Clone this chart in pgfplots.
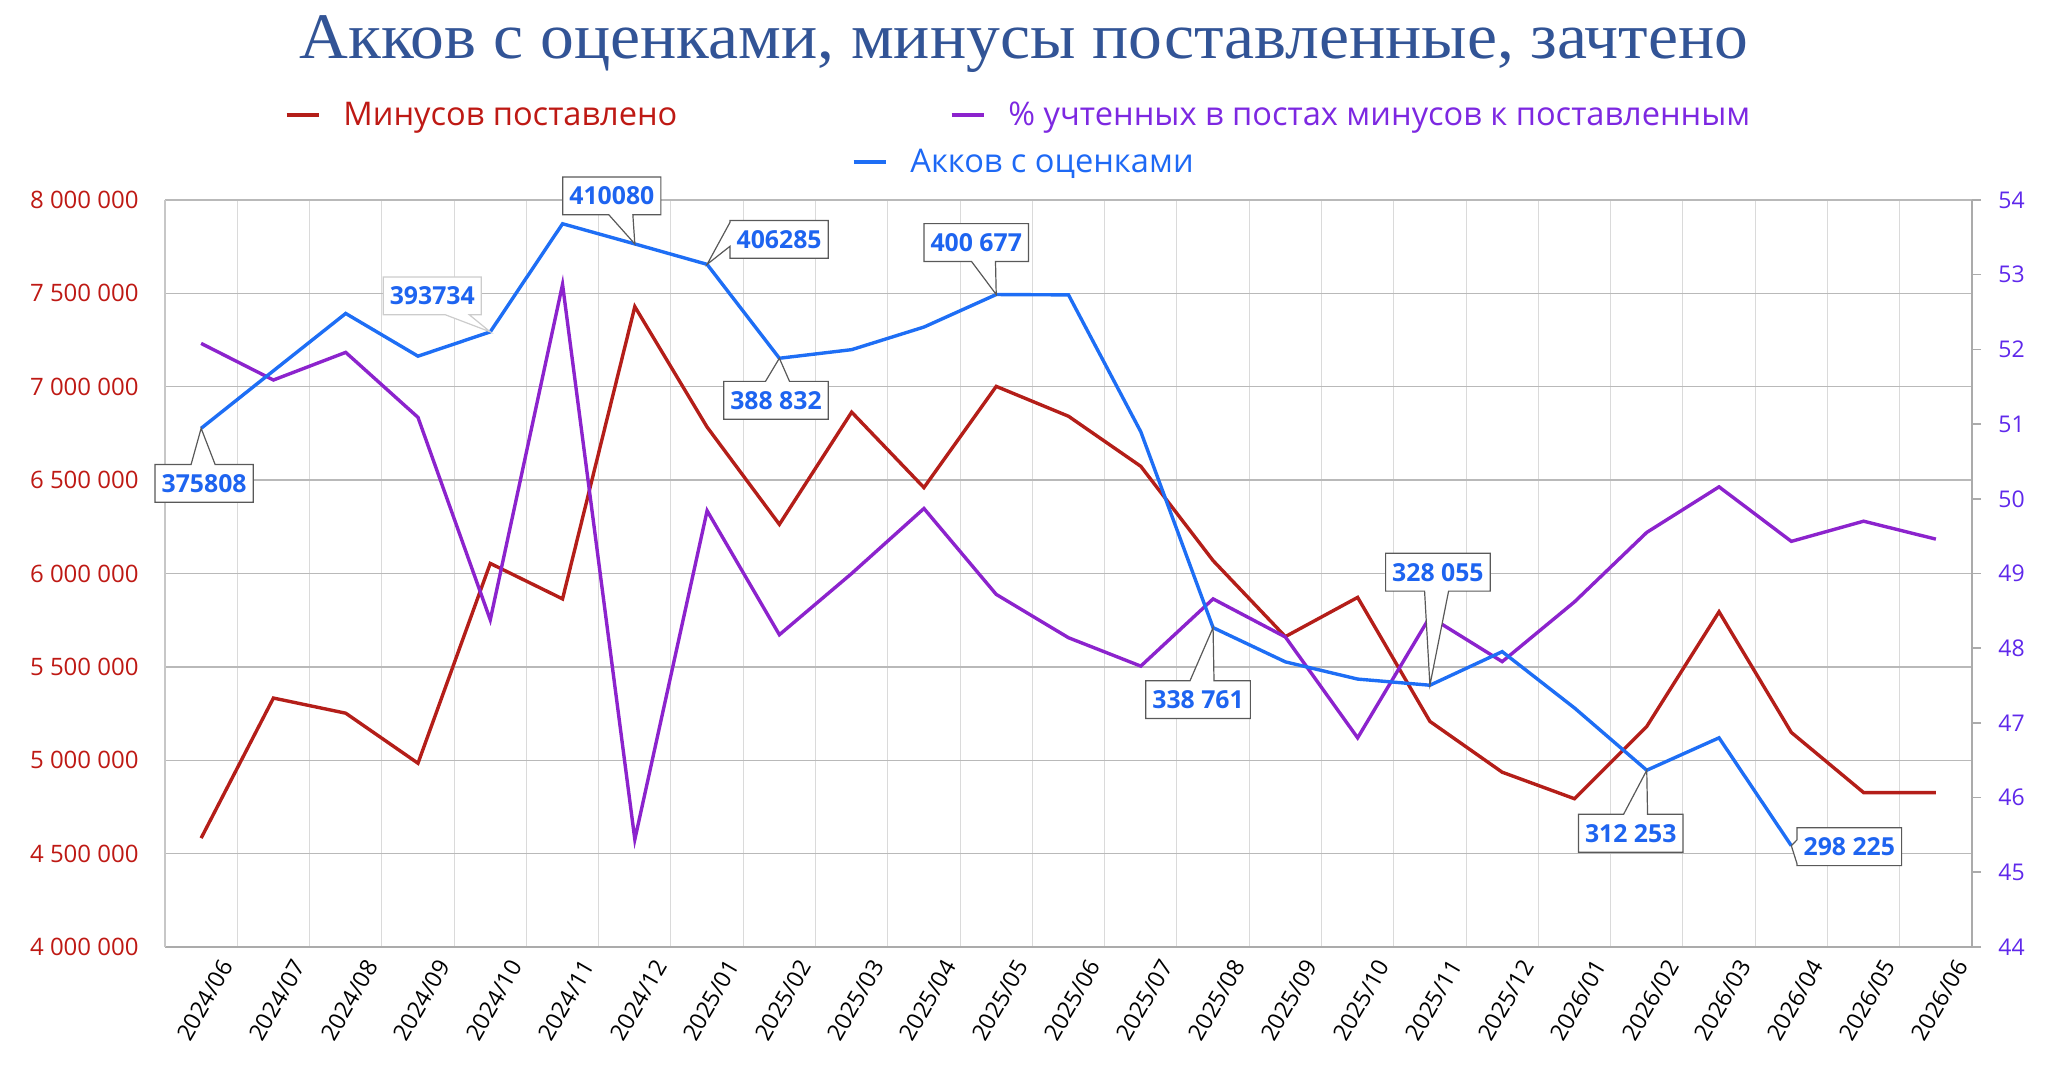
\documentclass[border=0pt]{standalone}
\usepackage{fontspec}
\setmainfont{Open Sans}
\newfontfamily\titlefont[FakeStretch=1.04]{Liberation Serif}
\usepackage{pgfplots}
\pgfplotsset{compat=1.18}
\usetikzlibrary{shapes.callouts}

\definecolor{redline}{RGB}{180,30,25}
\definecolor{redtext}{RGB}{190,25,20}
\definecolor{purpline}{RGB}{140,35,205}
\definecolor{purptext}{RGB}{125,40,225}
\definecolor{rtick}{RGB}{95,40,235}
\definecolor{blueline}{RGB}{30,110,245}
\definecolor{bluetext}{RGB}{30,105,245}
\definecolor{lblblue}{RGB}{30,100,240}
\definecolor{titleblue}{RGB}{50,84,150}
\definecolor{hgrid}{RGB}{185,185,185}
\definecolor{vgrid}{RGB}{218,218,218}

\pgfplotsset{
  base/.style={
    at={(82.5pt,67pt)}, anchor=south west,
    scale only axis, width=903.5pt, height=373.5pt,
    xmin=-0.5, xmax=24.5,
    clip=false, scaled y ticks=false,
    /pgf/number format/assume math mode=true,
    legend style={draw=none, fill=none, inner sep=0pt, outer sep=0pt,
      font=\fontsize{16.3}{19}\selectfont, anchor=west,
      nodes={inner sep=0pt}, column sep=0pt},
    legend image code/.code={\draw[line width=1.7pt,##1] (0pt,0pt) -- (16pt,0pt); \path (27.5pt,0pt);},
  },
}
\tikzset{lbl/.style={rectangle callout, draw=black!65, fill=white, line width=0.6pt,
  font=\bfseries\fontsize{12.4}{14}\selectfont, text=lblblue,
  inner xsep=3.3pt, inner ysep=5pt, text height=8.9pt, text depth=0pt,
  callout pointer width=12pt}}

\begin{document}
\begin{tikzpicture}
\path[use as bounding box] (0,0) rectangle (1024pt,540.5pt);

\begin{axis}[base,
  ymin=4000000, ymax=8000000,
  ytick={4000000,4500000,5000000,5500000,6000000,6500000,7000000,7500000,8000000},
  yticklabels={4 000 000,4 500 000,5 000 000,5 500 000,6 000 000,6 500 000,7 000 000,7 500 000,8 000 000},
  xtick={0,...,24},
  xticklabels={2024/06,2024/07,2024/08,2024/09,2024/10,2024/11,2024/12,2025/01,2025/02,2025/03,2025/04,2025/05,2025/06,2025/07,2025/08,2025/09,2025/10,2025/11,2025/12,2026/01,2026/02,2026/03,2026/04,2026/05,2026/06},
  minor xtick={-0.5,0.5,...,24.5},
  xminorgrids=true, xmajorgrids=false, ymajorgrids=true,
  minor x grid style={draw=vgrid, line width=0.5pt},
  major y grid style={draw=hgrid, line width=0.65pt},
  major tick length=0pt, minor tick length=0pt,
  axis x line*=bottom, axis y line*=left,
  x axis line style={draw=black!33, line width=1pt},
  y axis line style={draw=black!22, line width=0.6pt},
  xticklabel style={rotate=60, anchor=east, inner sep=0pt, font=\fontsize{11.6}{13}\selectfont, yshift=-15pt},
  yticklabel style={font=\fontsize{12}{14}\selectfont, text=redtext, inner sep=0pt, anchor=east, xshift=-13pt},
  legend style={at={(axis description cs:0.0664,1.1138)}},
]
\addplot[redline, line width=1.7pt] coordinates {
(0,4583000) (1,5333000) (2,5252000) (3,4984000) (4,6054000) (5,5864000)
(6,7429000) (7,6784000) (8,6263000) (9,6864000) (10,6460000) (11,7002000)
(12,6842000) (13,6574000) (14,6069000) (15,5662000) (16,5872000) (17,5208000)
(18,4936000) (19,4794000) (20,5181000) (21,5795000) (22,5149000) (23,4827000)
(24,4827000)};
\addlegendentry{\textcolor{redtext}{Минусов поставлено}}
\end{axis}

\begin{axis}[base,
  ymin=44, ymax=54, ytick={44,45,46,47,48,49,50,51,52,53,54},
  axis y line*=right, axis x line=none,
  y axis line style={draw=black!33, line width=1pt},
  ytick style={draw=black!33, line width=0.8pt},
  tick align=outside, major tick length=4.5pt,
  yticklabel style={font=\fontsize{11.5}{13}\selectfont, text=rtick, inner sep=0pt, anchor=west, xshift=8.5pt},
  legend style={at={(axis description cs:0.4344,1.1138)}},
]
\addplot[purpline, line width=1.7pt] coordinates {
(0,52.08) (1,51.59) (2,51.96) (3,51.09) (4,48.38) (5,52.87) (6,45.44)
(7,49.84) (8,48.18) (9,49.00) (10,49.87) (11,48.72) (12,48.14) (13,47.76)
(14,48.66) (15,48.15) (16,46.80) (17,48.42) (18,47.82) (19,48.62) (20,49.55)
(21,50.16) (22,49.43) (23,49.70) (24,49.46)};
\addlegendentry{\textcolor{purptext}{\% учтенных в постах минусов к поставленным}}
\end{axis}

\begin{axis}[base, hide axis,
  ymin=279400, ymax=418250,
  legend style={at={(axis description cs:0.3802,1.0509)}},
]
\addplot[blueline, line width=1.7pt] coordinates {
(0,375808) (1,386500) (2,397160) (3,389220) (4,393734) (5,413830) (6,410080)
(7,406285) (8,388832) (9,390430) (10,394630) (11,400677) (12,400610)
(13,375170) (14,338761) (15,332400) (16,329200) (17,328055) (18,334300)
(19,323830) (20,312253) (21,318280) (22,298225)};
\addlegendentry{\textcolor{bluetext}{Акков с оценками}}

\node[lbl, callout absolute pointer={(axis cs:0,375808)}] at ([xshift=1.5pt,yshift=-27.5pt]axis cs:0,375808) {375808};
\node[lbl, draw=black!20, callout absolute pointer={(axis cs:4,393734)}] at ([xshift=-29pt,yshift=18pt]axis cs:4,393734) {393734};
\node[lbl, callout absolute pointer={(axis cs:6,410080)}] at ([xshift=-11.5pt,yshift=24pt]axis cs:6,410080) {410080};
\node[lbl, callout absolute pointer={(axis cs:7,406285)}] at ([xshift=36pt,yshift=12.5pt]axis cs:7,406285) {406285};
\node[lbl, callout absolute pointer={(axis cs:8,388832)}] at ([xshift=-1.7pt,yshift=-21pt]axis cs:8,388832) {388 832};
\node[lbl, callout absolute pointer={(axis cs:11,400677)}] at ([xshift=-10pt,yshift=26pt]axis cs:11,400677) {400 677};
\node[lbl, callout absolute pointer={(axis cs:14,338761)}] at ([xshift=-7.5pt,yshift=-36pt]axis cs:14,338761) {338 761};
\node[lbl, callout absolute pointer={(axis cs:17,328055)}] at ([xshift=4pt,yshift=56.5pt]axis cs:17,328055) {328 055};
\node[lbl, callout absolute pointer={(axis cs:20,312253)}] at ([xshift=-8pt,yshift=-31.5pt]axis cs:20,312253) {312 253};
\node[lbl, callout absolute pointer={(axis cs:22,298225)}] at ([xshift=29pt,yshift=-0.5pt]axis cs:22,298225) {298 225};
\end{axis}

\node[anchor=base, inner sep=0pt, font=\titlefont\fontsize{32.5}{38}\selectfont, text=titleblue] at (512pt,511.4pt) {Акков с оценками, минусы поставленные, зачтено};
\end{tikzpicture}
\end{document}
